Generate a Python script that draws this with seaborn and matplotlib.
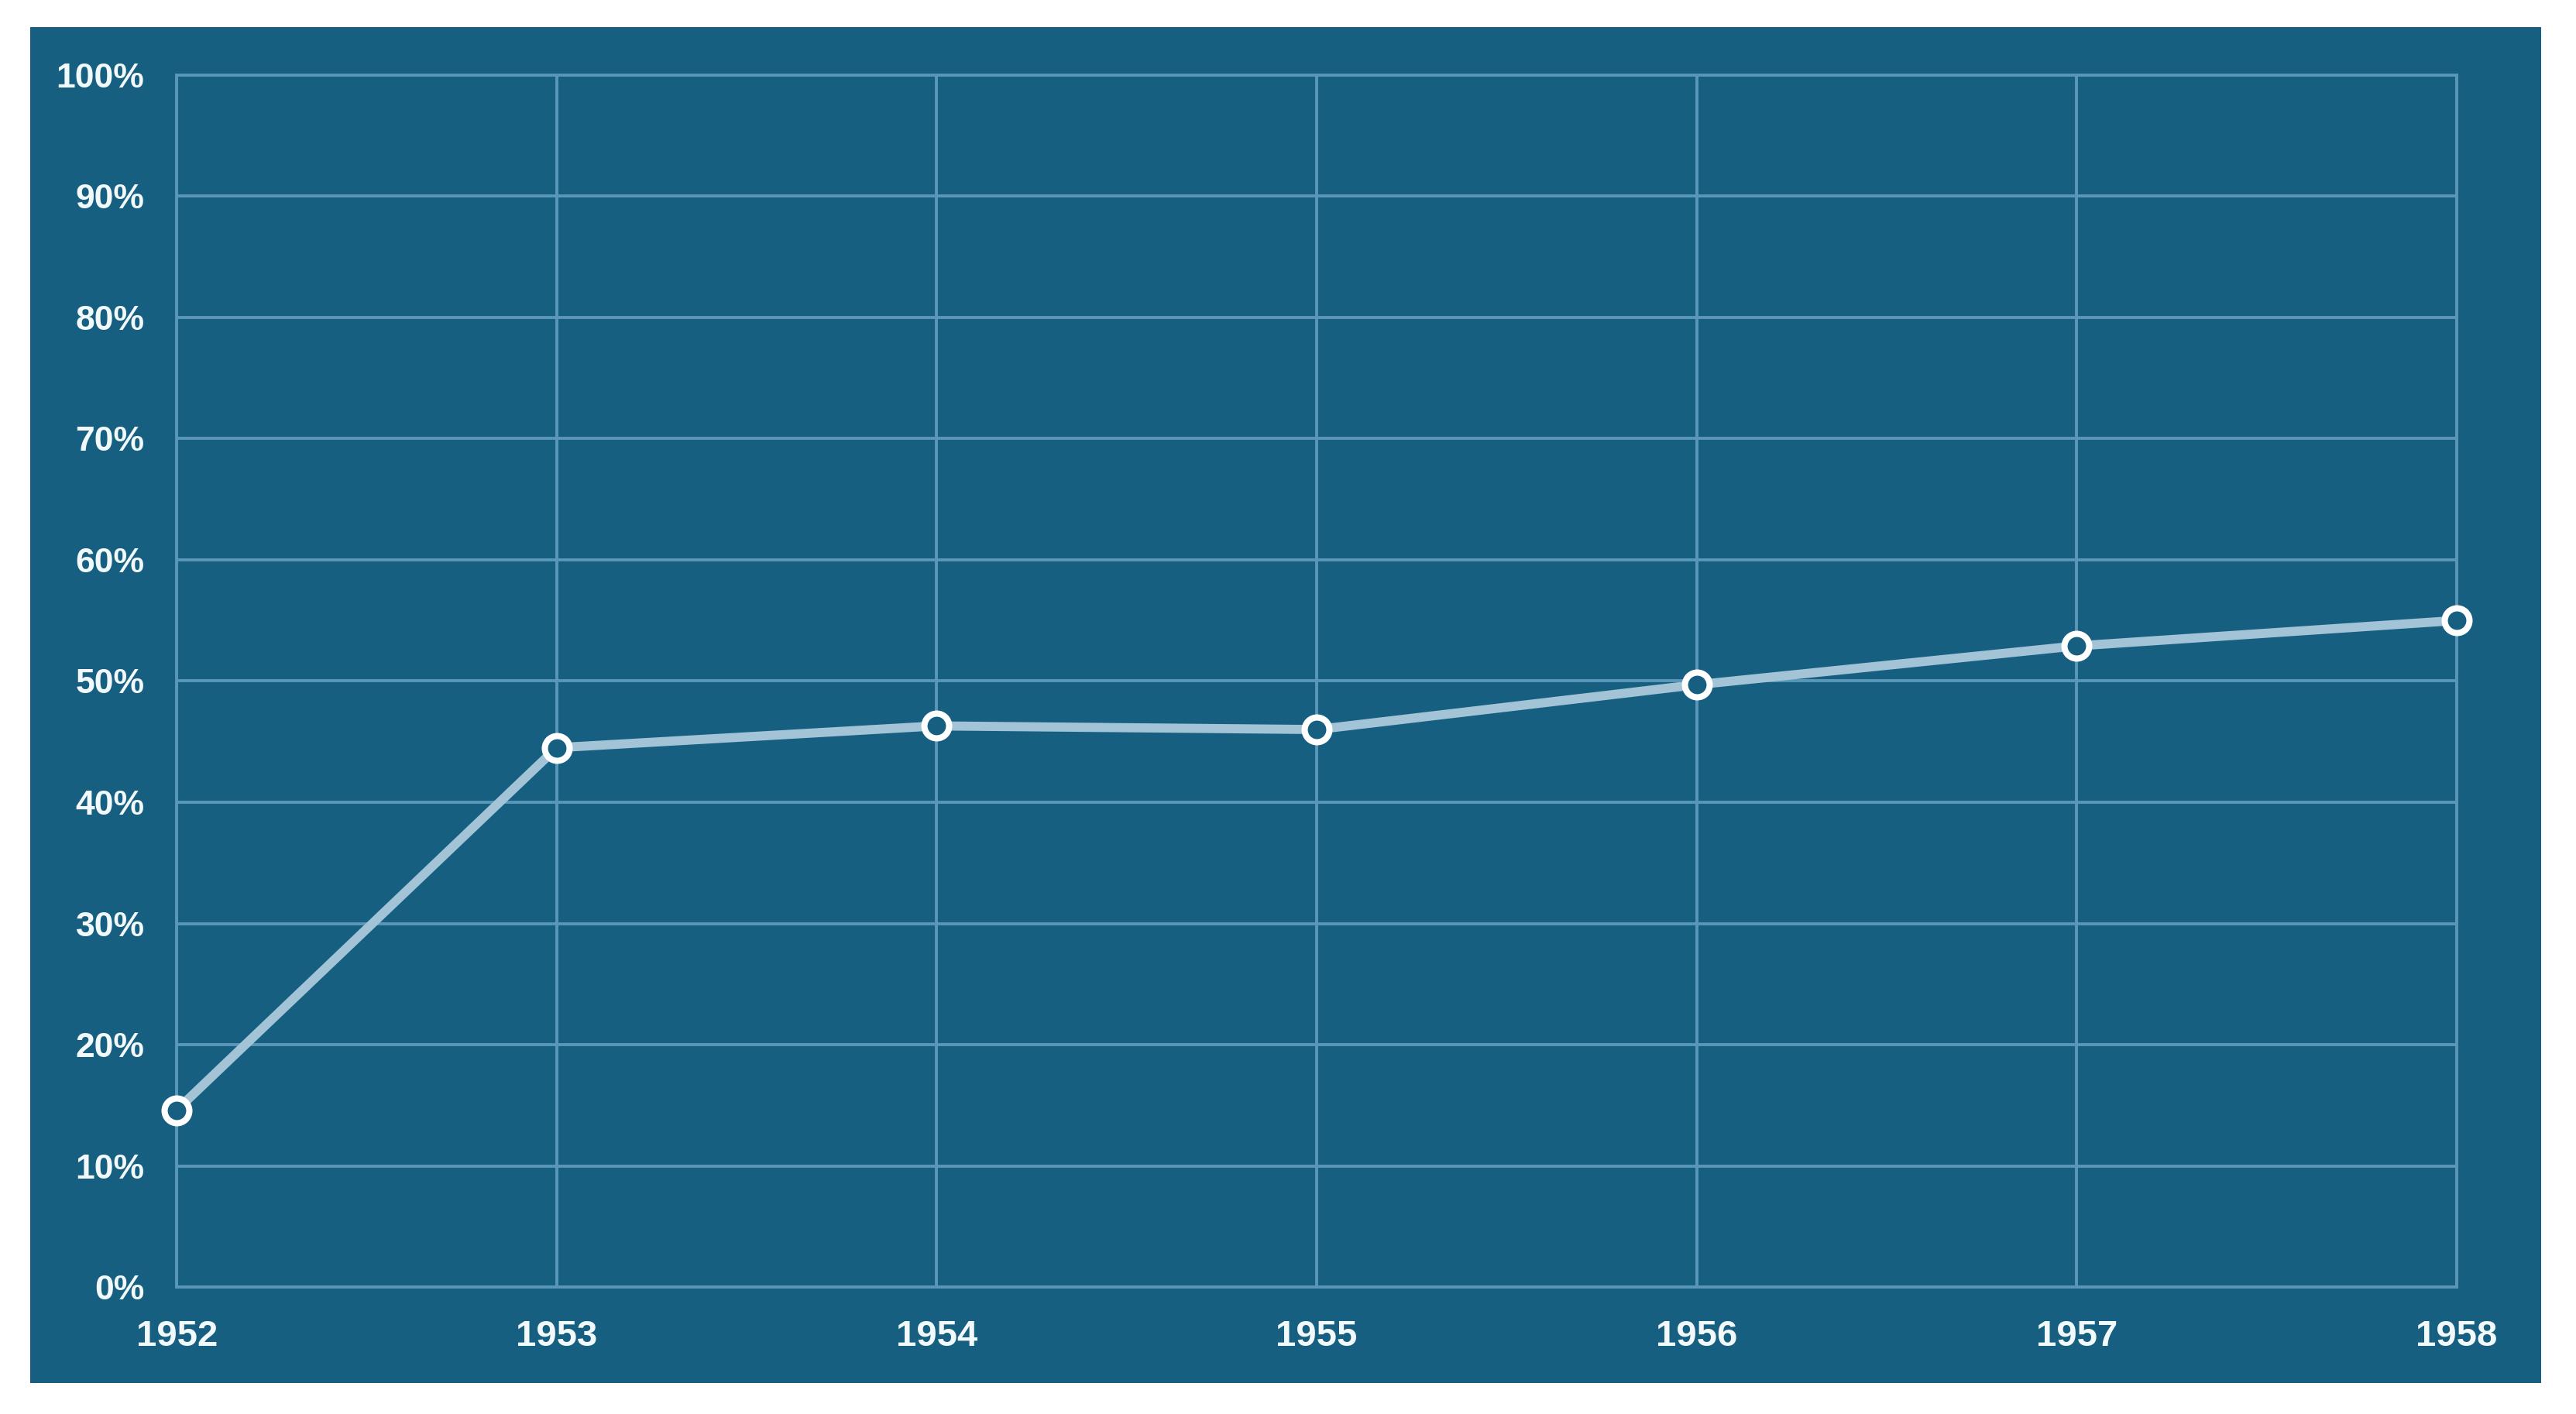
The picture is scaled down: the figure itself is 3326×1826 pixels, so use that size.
import pandas as pd
import matplotlib.pyplot as plt
import matplotlib.patches as patches
from matplotlib.ticker import PercentFormatter
import seaborn as sns

# Data
years = [1952, 1953, 1954, 1955, 1956, 1957, 1958]
share = [14.6, 44.5, 46.3, 46.0, 49.7, 52.9, 55.0]
y_ticks = [0, 10, 20, 30, 40, 50, 60, 70, 80, 90, 100]

df = pd.DataFrame({"Year": years, "Share": share})

# Colours
panel = "#175f80"
grid = "#5a96b7"
line = "#a2c4d6"
text = "#f2f9fb"

sns.set_style("white")
plt.rcParams['font.family'] = ['Liberation Sans', 'DejaVu Sans']

fig = plt.figure(figsize=(33.26, 18.26), dpi=100)
fig.patch.set_facecolor("white")

# Blue card behind the chart
fig.patches.append(patches.Rectangle((0.0117, 0.0219), 0.9747, 0.959,
                                     transform=fig.transFigure, facecolor=panel,
                                     edgecolor="none", zorder=-5))

ax = fig.add_axes([0.0686, 0.0898, 0.8851, 0.8571])
ax.set_facecolor(panel)

sns.lineplot(data=df, x="Year", y="Share", ax=ax, color=line, linewidth=8.5,
             marker="o", markersize=23, markerfacecolor=panel,
             markeredgecolor="white", markeredgewidth=5.8, zorder=5, clip_on=False)

ax.set_xlim(years[0], years[-1])
ax.set_ylim(0, 100)
ax.set_xticks(years)
ax.set_yticks(y_ticks)
ax.yaxis.set_major_formatter(PercentFormatter(decimals=0))

ax.grid(True, color=grid, linewidth=2.8)
for s in ax.spines.values():
    s.set_color(grid)
    s.set_linewidth(2.8)

ax.tick_params(axis="y", length=0, pad=30, labelsize=32, labelcolor=text)
ax.tick_params(axis="x", length=0, pad=30, labelsize=34, labelcolor=text)
for lbl in ax.get_xticklabels() + ax.get_yticklabels():
    lbl.set_fontweight("bold")

ax.set_xlabel("")
ax.set_ylabel("")

plt.savefig("out.png", dpi=100, facecolor="white")
